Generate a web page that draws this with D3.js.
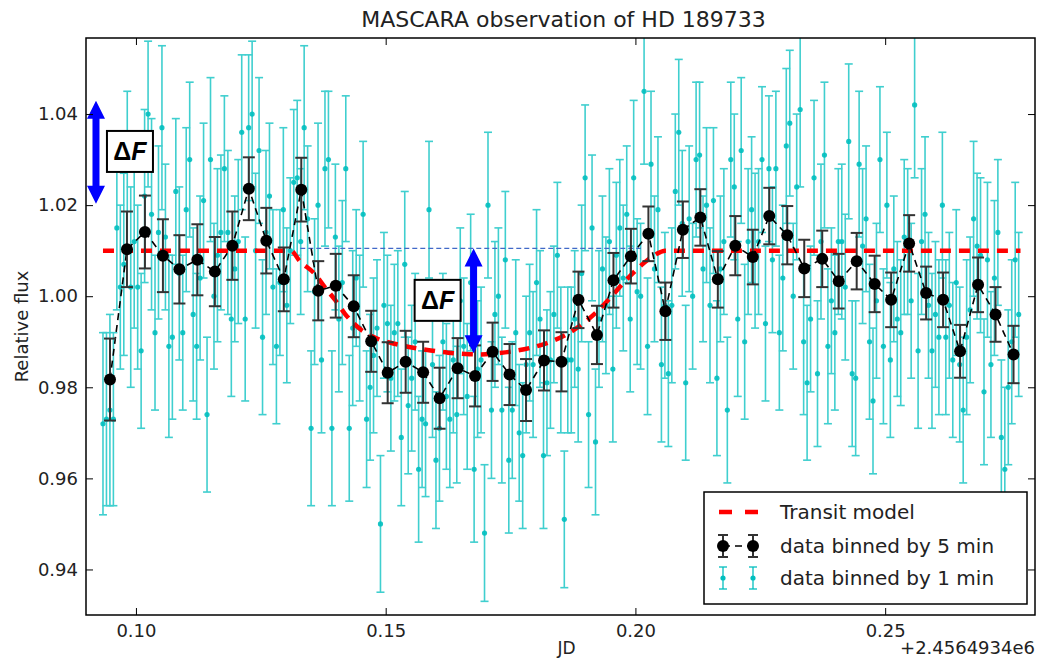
<!DOCTYPE html>
<html lang="en">
<head>
<meta charset="UTF-8">
<script src="https://d3js.org/d3.v7.min.js"></script>
<style>
    body { margin: 0; background: #fff; }
    text { font-family: "DejaVu Sans", sans-serif; fill: #222; }
    .tick line { stroke: #000; }
</style>
<title>MASCARA observation of HD 189733</title>
</head>
<body>
<script>
// ---- data (JD offset by +2.4564934e6) ----

// 5-min bins: time, flux, error
const binTime = [
    0.0948, 0.0982, 0.1018, 0.1054, 0.1087, 0.1123, 0.1158, 0.1193, 0.1226, 0.1261, 0.1296, 0.1331, 0.1365,
    0.1400, 0.1436, 0.1471, 0.1504, 0.1540, 0.1575, 0.1608, 0.1644, 0.1679, 0.1714, 0.1748, 0.1781, 0.1817, 0.1852,
    0.1886, 0.1923, 0.1956, 0.1991, 0.2026, 0.2060, 0.2095, 0.2130, 0.2165, 0.2200, 0.2235, 0.2268, 0.2304, 0.2338,
    0.2374, 0.2407, 0.2443, 0.2479, 0.2512, 0.2548, 0.2582, 0.2616, 0.2650, 0.2686, 0.2721, 0.2757
];
const binFlux = [
    0.9817, 1.0103, 1.0141, 1.0089, 1.0059, 1.0080, 1.0054, 1.0111, 1.0236, 1.0122, 1.0037, 1.0234, 1.0012,
    1.0023, 0.9978, 0.9901, 0.9832, 0.9856, 0.9833, 0.9776, 0.9842, 0.9825, 0.9878, 0.9828, 0.9794, 0.9859, 0.9856,
    0.9992, 0.9915, 1.0035, 1.0088, 1.0137, 0.9967, 1.0146, 1.0173, 1.0037, 1.0111, 1.0086, 1.0176, 1.0134, 1.0061,
    1.0082, 1.0033, 1.0077, 1.0027, 0.9992, 1.0116, 1.0007, 0.9992, 0.9879, 1.0025, 0.9960, 0.9872
];
const binErr = [
    0.0090, 0.0083, 0.0080, 0.0080, 0.0075, 0.0078, 0.0076, 0.0075, 0.0069, 0.0072, 0.0070, 0.0070, 0.0065,
    0.0070, 0.0068, 0.0067, 0.0067, 0.0068, 0.0067, 0.0067, 0.0066, 0.0067, 0.0064, 0.0067, 0.0068, 0.0066, 0.0065,
    0.0062, 0.0064, 0.0060, 0.0060, 0.0060, 0.0063, 0.0062, 0.0062, 0.0062, 0.0065, 0.0060, 0.0062, 0.0064, 0.0063,
    0.0062, 0.0060, 0.0062, 0.0062, 0.0060, 0.0062, 0.0058, 0.0060, 0.0058, 0.0060, 0.0060, 0.0063
];

// 1-min bins: regular cadence starting at minuteStart, one value per minute
const minuteStart = 0.0934;
const minuteStep = 1 / 1440;
const minuteFlux = [
    0.972, 0.973, 0.975, 0.973, 1.015,
    1.002, 1.007, 1.028, 1.002, 1.012,
    1.002, 0.988, 1.022, 1.040, 1.018,
    0.992, 1.014, 1.037, 1.013, 0.989,
    0.991, 1.023, 1.005, 0.992, 1.019,
    1.030, 0.996, 0.989, 1.004, 1.021,
    0.974, 1.030, 1.000, 1.009, 1.014,
    1.028, 1.014, 0.995, 1.006, 1.012,
    1.036, 0.995, 1.037, 1.040, 1.010,
    1.032, 0.991, 1.014, 1.022, 1.002,
    0.989, 1.003, 1.019, 0.998, 1.010,
    1.025, 1.026, 1.012, 1.037, 1.017,
    0.971, 1.001, 1.020, 0.986, 1.028,
    1.030, 0.971, 1.013, 0.995, 1.003,
    1.028, 0.971, 0.993, 1.004, 0.993,
    1.018, 0.973, 0.980, 0.987, 0.993,
    0.950, 0.998, 0.994, 0.982, 0.992,
    0.994, 0.969, 1.007, 0.976, 0.982,
    0.990, 0.962, 0.973, 0.972, 1.019,
    0.985, 0.964, 0.971, 0.990, 0.978,
    0.973, 0.986, 0.974, 0.999, 0.989,
    0.978, 1.003, 0.962, 0.984, 0.986,
    0.948, 1.020, 0.975, 0.996, 1.000,
    0.975, 1.008, 0.964, 0.975, 0.992,
    0.970, 0.965, 0.985, 0.992, 0.985,
    1.003, 0.995, 0.965, 0.981, 0.986,
    0.996, 1.009, 0.986, 0.951, 0.986,
    0.986, 0.995, 0.984, 1.005, 1.026,
    0.974, 1.015, 0.968, 0.995, 1.006,
    0.998, 1.012, 0.984, 1.009, 1.015,
    1.004, 1.018, 0.995, 1.026, 1.001,
    1.000, 1.045, 0.989, 1.029, 1.006,
    1.019, 0.985, 0.998, 0.983, 0.998,
    1.023, 1.036, 1.016, 0.981, 1.017,
    1.000, 1.030, 1.031, 1.006, 1.020,
    0.998, 1.021, 0.982, 1.006, 1.012,
    0.975, 1.030, 1.024, 0.995, 1.032,
    0.990, 1.012, 1.019, 1.010, 1.012,
    1.030, 0.994, 1.028, 1.008, 1.028,
    0.992, 1.004, 1.033, 1.038, 1.000,
    1.024, 1.041, 0.990, 0.981, 0.995,
    1.026, 0.983, 1.012, 1.031, 0.989,
    0.999, 0.992, 1.012, 1.012, 1.002,
    1.034, 0.983, 0.982, 1.029, 1.011,
    1.017, 0.990, 0.977, 0.999, 1.030,
    0.989, 1.020, 0.986, 1.006, 0.995,
    0.992, 1.013, 1.012, 0.999, 1.042,
    0.988, 1.012, 1.018, 0.998, 0.988,
    0.996, 0.991, 1.020, 0.991, 0.998,
    0.986, 1.003, 0.985, 0.975, 0.991,
    0.997, 1.017, 1.011, 1.009, 0.979,
    1.008, 0.985, 1.004, 1.014, 0.969,
    0.962, 0.980, 0.990, 1.008, 0.996
];
const minuteErr = [
    0.020, 0.019, 0.021, 0.019, 0.018,
    0.018, 0.020, 0.017, 0.022, 0.019,
    0.018, 0.017, 0.019, 0.016, 0.021,
    0.017, 0.019, 0.018, 0.016, 0.020,
    0.018, 0.016, 0.019, 0.017, 0.018,
    0.017, 0.019, 0.016, 0.018, 0.017,
    0.017, 0.018, 0.016, 0.019, 0.017,
    0.016, 0.018, 0.017, 0.016, 0.018,
    0.017, 0.018, 0.016, 0.016, 0.017,
    0.016, 0.017, 0.018, 0.016, 0.017,
    0.017, 0.016, 0.018, 0.017, 0.016,
    0.016, 0.017, 0.016, 0.018, 0.016,
    0.017, 0.016, 0.018, 0.016, 0.017,
    0.015, 0.017, 0.016, 0.016, 0.018,
    0.016, 0.016, 0.017, 0.015, 0.016,
    0.016, 0.015, 0.016, 0.017, 0.015,
    0.015, 0.016, 0.015, 0.016, 0.015,
    0.016, 0.015, 0.016, 0.015, 0.016,
    0.015, 0.016, 0.015, 0.016, 0.015,
    0.016, 0.015, 0.016, 0.015, 0.016,
    0.015, 0.016, 0.015, 0.016, 0.015,
    0.016, 0.015, 0.016, 0.015, 0.016,
    0.015, 0.016, 0.015, 0.016, 0.015,
    0.016, 0.015, 0.016, 0.015, 0.016,
    0.015, 0.016, 0.015, 0.015, 0.016,
    0.016, 0.015, 0.016, 0.016, 0.015,
    0.015, 0.016, 0.016, 0.015, 0.016,
    0.016, 0.015, 0.016, 0.015, 0.016,
    0.016, 0.016, 0.016, 0.015, 0.016,
    0.015, 0.016, 0.016, 0.016, 0.015,
    0.016, 0.015, 0.016, 0.017, 0.016,
    0.016, 0.016, 0.015, 0.016, 0.016,
    0.016, 0.017, 0.016, 0.016, 0.017,
    0.017, 0.016, 0.016, 0.017, 0.016,
    0.016, 0.017, 0.016, 0.016, 0.017,
    0.017, 0.016, 0.017, 0.016, 0.016,
    0.016, 0.017, 0.016, 0.017, 0.016,
    0.017, 0.016, 0.016, 0.017, 0.016,
    0.016, 0.017, 0.016, 0.016, 0.017,
    0.017, 0.016, 0.017, 0.016, 0.016,
    0.016, 0.017, 0.016, 0.017, 0.016,
    0.017, 0.016, 0.017, 0.016, 0.017,
    0.016, 0.017, 0.016, 0.017, 0.016,
    0.017, 0.016, 0.017, 0.016, 0.017,
    0.016, 0.017, 0.016, 0.017, 0.016,
    0.017, 0.016, 0.017, 0.016, 0.017,
    0.016, 0.017, 0.016, 0.017, 0.016,
    0.017, 0.016, 0.017, 0.016, 0.017,
    0.016, 0.017, 0.016, 0.017, 0.016,
    0.017, 0.016, 0.017, 0.016, 0.017,
    0.016, 0.017, 0.016, 0.017, 0.016,
    0.017, 0.016, 0.017, 0.016, 0.017,
    0.018, 0.017, 0.018, 0.017, 0.018
];

// transit model curve
const modelTime = [
    0.0934, 0.1310, 0.1328, 0.1358, 0.1378, 0.1400, 0.1418, 0.1450, 0.1485, 0.1520, 0.1555, 0.1590,
    0.1625, 0.1660, 0.1690, 0.1725, 0.1760, 0.1795, 0.1830, 0.1865, 0.1895, 0.1925, 0.1950, 0.1975,
    0.2000, 0.2025, 0.2050, 0.2060, 0.2771
];
const modelFlux = [
    1.0100, 1.0100, 1.0077, 1.0049, 1.0020, 0.9990, 0.9962, 0.9927, 0.9906, 0.9895, 0.9887, 0.9881,
    0.9876, 0.9873, 0.9872, 0.9875, 0.9880, 0.9888, 0.9900, 0.9918, 0.9940, 0.9968, 0.9997, 1.0028,
    1.0056, 1.0080, 1.0097, 1.0100, 1.0100
];

// annotation: out-of-transit level and depth arrows
const baselineTime = [0.1329, 0.2011];
const baselineFlux = 1.0105;
const arrowTime = [0.0920, 0.1676];
const arrowTop = [1.0429, 1.0105];
const arrowBottom = [1.0203, 0.9875];
const labelTime = [0.0988, 0.1604];
const labelFlux = [1.0319, 0.9992];

const xTicks = [0.10, 0.15, 0.20, 0.25];
const yTicks = [0.94, 0.96, 0.98, 1.00, 1.02, 1.04];

// ---- layout ----
const width = 1052, height = 660;
const pL = 86, pR = 1035, pT = 38, pB = 615;

const svg = d3.select("body").append("svg")
    .attr("width", width)
    .attr("height", height);

const x = d3.scaleLinear().domain([0.09, 0.28]).range([pL, pR]);
const y = d3.scaleLinear().domain([0.93, 1.0567]).range([pB, pT]);

svg.append("defs").append("clipPath").attr("id", "plot")
    .append("rect")
    .attr("x", pL).attr("y", pT)
    .attr("width", pR - pL).attr("height", pB - pT);

const plot = svg.append("g").attr("clip-path", "url(#plot)");

// 1-min data
const minutes = minuteFlux.map((v, i) => ({t: minuteStart + i * minuteStep, v: v, e: minuteErr[i]}));
const cyan = "#00bfbf";
const mg = plot.append("g").attr("stroke", cyan).attr("stroke-width", 1.6).attr("opacity", 0.75);
mg.selectAll(".bar").data(minutes).enter().append("line")
    .attr("x1", d => x(d.t)).attr("x2", d => x(d.t))
    .attr("y1", d => y(d.v - d.e)).attr("y2", d => y(d.v + d.e));
mg.selectAll(".capTop").data(minutes).enter().append("line")
    .attr("x1", d => x(d.t) - 4).attr("x2", d => x(d.t) + 4)
    .attr("y1", d => y(d.v + d.e)).attr("y2", d => y(d.v + d.e));
mg.selectAll(".capBot").data(minutes).enter().append("line")
    .attr("x1", d => x(d.t) - 4).attr("x2", d => x(d.t) + 4)
    .attr("y1", d => y(d.v - d.e)).attr("y2", d => y(d.v - d.e));
plot.append("g").selectAll("circle").data(minutes).enter().append("circle")
    .attr("cx", d => x(d.t)).attr("cy", d => y(d.v))
    .attr("r", 2.6).attr("fill", cyan).attr("opacity", 0.9);

// transit model
plot.append("path")
    .datum(modelTime.map((t, i) => [t, modelFlux[i]]))
    .attr("d", d3.line().x(d => x(d[0])).y(d => y(d[1])).curve(d3.curveMonotoneX))
    .attr("fill", "none").attr("stroke", "#ff0000")
    .attr("stroke-width", 4.5).attr("stroke-dasharray", "11,8");

// out-of-transit level
plot.append("line")
    .attr("x1", x(baselineTime[0])).attr("x2", x(baselineTime[1]))
    .attr("y1", y(baselineFlux)).attr("y2", y(baselineFlux))
    .attr("stroke", "#4169c8").attr("stroke-width", 1.2).attr("stroke-dasharray", "5,3");

// 5-min data
const bins = binTime.map((t, i) => ({t: t, v: binFlux[i], e: binErr[i]}));
plot.append("path")
    .datum(bins)
    .attr("d", d3.line().x(d => x(d.t)).y(d => y(d.v)))
    .attr("fill", "none").attr("stroke", "#000")
    .attr("stroke-width", 1.6).attr("stroke-dasharray", "7,5");
const bg = plot.append("g").attr("stroke", "#333").attr("stroke-width", 2);
bg.selectAll(".bar").data(bins).enter().append("line")
    .attr("x1", d => x(d.t)).attr("x2", d => x(d.t))
    .attr("y1", d => y(d.v - d.e)).attr("y2", d => y(d.v + d.e));
bg.selectAll(".capTop").data(bins).enter().append("line")
    .attr("x1", d => x(d.t) - 6).attr("x2", d => x(d.t) + 6)
    .attr("y1", d => y(d.v + d.e)).attr("y2", d => y(d.v + d.e));
bg.selectAll(".capBot").data(bins).enter().append("line")
    .attr("x1", d => x(d.t) - 6).attr("x2", d => x(d.t) + 6)
    .attr("y1", d => y(d.v - d.e)).attr("y2", d => y(d.v - d.e));
plot.append("g").selectAll("circle").data(bins).enter().append("circle")
    .attr("cx", d => x(d.t)).attr("cy", d => y(d.v))
    .attr("r", 6).attr("fill", "#000");

// depth arrows
function arrowPath(cx, y1, y2) {
    const hw = 9, hl = 18, sw = 3.5;
    return `M${cx},${y1} L${cx + hw},${y1 + hl} L${cx + sw},${y1 + hl} L${cx + sw},${y2 - hl}
            L${cx + hw},${y2 - hl} L${cx},${y2} L${cx - hw},${y2 - hl} L${cx - sw},${y2 - hl}
            L${cx - sw},${y1 + hl} L${cx - hw},${y1 + hl} Z`;
}
arrowTime.forEach((t, i) => {
    svg.append("path")
        .attr("d", arrowPath(x(t), y(arrowTop[i]), y(arrowBottom[i])))
        .attr("fill", "#0000ff");
});
labelTime.forEach((t, i) => {
    const g = svg.append("g").attr("transform", `translate(${x(t)},${y(labelFlux[i])})`);
    g.append("rect").attr("x", -23).attr("y", -20).attr("width", 46).attr("height", 41)
        .attr("fill", "#fff").attr("stroke", "#000").attr("stroke-width", 2);
    const tx = g.append("text").attr("text-anchor", "middle").attr("dy", "0.36em")
        .style("font-family", "'Liberation Sans', Arial, sans-serif")
        .style("font-size", "25px").style("font-weight", "bold").style("fill", "#000");
    tx.append("tspan").text("Δ");
    tx.append("tspan").style("font-style", "italic").text("F");
});

// ---- axes ----
svg.append("g").attr("transform", `translate(0,${pB})`)
    .call(d3.axisBottom(x).tickValues(xTicks).tickSize(-7).tickPadding(9).tickFormat(d3.format(".2f")));
svg.append("g").attr("transform", `translate(0,${pT})`)
    .call(d3.axisTop(x).tickValues(xTicks).tickSize(-7).tickFormat(""));
svg.append("g").attr("transform", `translate(${pL},0)`)
    .call(d3.axisLeft(y).tickValues(yTicks).tickSize(-7).tickPadding(8).tickFormat(d3.format(".2f")));
svg.append("g").attr("transform", `translate(${pR},0)`)
    .call(d3.axisRight(y).tickValues(yTicks).tickSize(-7).tickFormat(""));
svg.selectAll(".domain").remove();
svg.selectAll(".tick text").style("font-size", "18px").style("font-family", "'DejaVu Sans', sans-serif").attr("fill", "#222");

svg.append("rect")
    .attr("x", pL).attr("y", pT)
    .attr("width", pR - pL).attr("height", pB - pT)
    .attr("fill", "none").attr("stroke", "#000").attr("stroke-width", 1.5);

// titles
svg.append("text").attr("x", (pL + pR) / 2 + 3).attr("y", 27)
    .attr("text-anchor", "middle").style("font-size", "22px")
    .text("MASCARA observation of HD 189733");
svg.append("text").attr("x", (pL + pR) / 2 + 6).attr("y", 654)
    .attr("text-anchor", "middle").style("font-size", "17px").text("JD");
svg.append("text").attr("x", pR).attr("y", 654)
    .attr("text-anchor", "end").style("font-size", "18px").text("+2.4564934e6");
svg.append("text")
    .attr("transform", `translate(28,${(pT + pB) / 2}) rotate(-90)`)
    .attr("text-anchor", "middle").style("font-size", "18px").text("Relative flux");

// ---- legend ----
const lg = svg.append("g").attr("transform", "translate(704,492)");
lg.append("rect").attr("width", 323).attr("height", 112)
    .attr("fill", "#fff").attr("stroke", "#000").attr("stroke-width", 1.5);
const rows = [20, 54, 86];
const hx = [19, 49];
// transit model
lg.append("line").attr("x1", 15).attr("x2", 54).attr("y1", rows[0]).attr("y2", rows[0])
    .attr("stroke", "#ff0000").attr("stroke-width", 4.5).attr("stroke-dasharray", "13,13");
// 5-min
lg.append("line").attr("x1", hx[0]).attr("x2", hx[1]).attr("y1", rows[1]).attr("y2", rows[1])
    .attr("stroke", "#000").attr("stroke-width", 1.6).attr("stroke-dasharray", "7,5");
hx.forEach(h => {
    lg.append("line").attr("x1", h).attr("x2", h).attr("y1", rows[1] - 11).attr("y2", rows[1] + 11)
        .attr("stroke", "#333").attr("stroke-width", 2);
    [-11, 11].forEach(o => lg.append("line").attr("x1", h - 5).attr("x2", h + 5)
        .attr("y1", rows[1] + o).attr("y2", rows[1] + o).attr("stroke", "#333").attr("stroke-width", 2));
    lg.append("circle").attr("cx", h).attr("cy", rows[1]).attr("r", 6).attr("fill", "#000");
    // 1-min
    lg.append("line").attr("x1", h).attr("x2", h).attr("y1", rows[2] - 11).attr("y2", rows[2] + 11)
        .attr("stroke", cyan).attr("stroke-width", 1.6).attr("opacity", 0.8);
    [-11, 11].forEach(o => lg.append("line").attr("x1", h - 4).attr("x2", h + 4)
        .attr("y1", rows[2] + o).attr("y2", rows[2] + o).attr("stroke", cyan).attr("stroke-width", 1.6).attr("opacity", 0.8));
    lg.append("circle").attr("cx", h).attr("cy", rows[2]).attr("r", 2.6).attr("fill", cyan);
});
const labels = ["Transit model", "data binned by 5 min", "data binned by 1 min"];
labels.forEach((s, i) => {
    lg.append("text").attr("x", 76).attr("y", rows[i]).attr("dy", "0.35em")
        .style("font-size", "20px").text(s);
});
</script>
</body>
</html>
